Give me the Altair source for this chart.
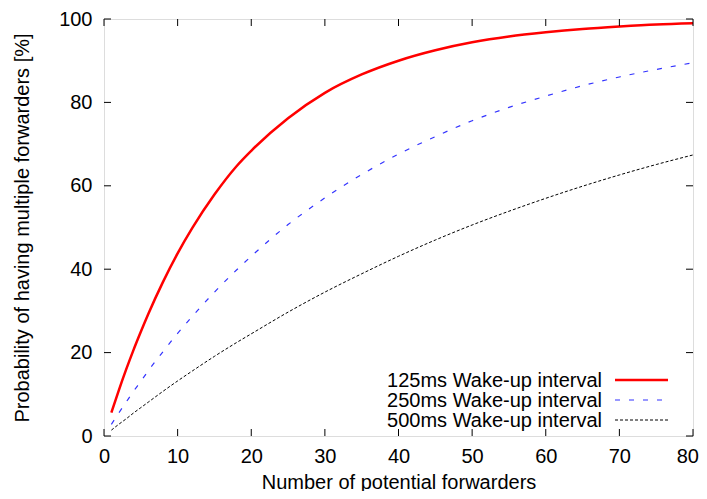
import altair as alt
import pandas as pd

# Data
xs = [1, 2, 3, 4, 5, 6, 8, 10, 12, 15, 18, 20, 25, 30, 35, 40, 45, 50, 55, 60, 65, 70, 75, 80]
red_125 = [5.6, 10.9, 15.9, 20.6, 25.0, 29.2, 36.9, 43.8, 49.9, 57.9, 64.7, 68.4, 76.2, 82.3,
           86.7, 90.0, 92.5, 94.4, 95.8, 96.8, 97.6, 98.2, 98.7, 99.0]
blue_250 = [2.8, 5.5, 8.1, 10.7, 13.1, 15.6, 20.2, 24.6, 28.7, 34.5, 39.8, 43.1, 50.7, 57.1,
            62.7, 67.6, 71.8, 75.6, 78.8, 81.5, 84.0, 86.1, 87.9, 89.5]
black_500 = [1.4, 2.8, 4.1, 5.5, 6.8, 8.1, 10.7, 13.2, 15.6, 19.1, 22.4, 24.5, 29.7, 34.5,
             38.9, 43.1, 47.0, 50.6, 53.9, 57.0, 59.9, 62.6, 65.1, 67.4]
labels = ["125ms Wake-up interval", "250ms Wake-up interval", "500ms Wake-up interval"]
x_ticks = [0, 10, 20, 30, 40, 50, 60, 70, 80]
y_ticks = [0, 20, 40, 60, 80, 100]

W, H = 589, 417
FONT = "Liberation Sans"
FS = 20

xscale = alt.Scale(domain=[0, 80], nice=False, zero=False)
yscale = alt.Scale(domain=[0, 100], nice=False)

styles = [
    dict(color="#ff0000", strokeWidth=2.5),
    dict(color="#3333ff", strokeWidth=1.2, strokeDash=[5, 9]),
    dict(color="#000000", strokeWidth=1.0, strokeDash=[3, 2]),
]
series = [red_125, blue_250, black_500]

x_axis = alt.Axis(values=x_ticks, title="Number of potential forwarders", grid=False,
                  domain=False, ticks=False, tickSize=0, labelPadding=10, titlePadding=6,
                  labelFont=FONT, titleFont=FONT, labelFontSize=FS, titleFontSize=FS,
                  labelColor="black", titleColor="black", titleFontWeight="normal",
                  labelFlush=True, labelFlushOffset=5.5)
y_axis = alt.Axis(values=y_ticks, title="Probability of having multiple forwarders [%]",
                  grid=False, domain=False, ticks=False, tickSize=0, labelPadding=12,
                  titlePadding=26, labelFont=FONT, titleFont=FONT, labelFontSize=FS,
                  titleFontSize=FS, labelColor="black", titleColor="black",
                  titleFontWeight="normal", labelFlush=False)

layers = []
for vals, st in zip(series, styles):
    df = pd.DataFrame({"x": xs, "y": vals})
    layers.append(alt.Chart(df).mark_line(interpolate="monotone", clip=True, **st)
                  .encode(x=alt.X("x:Q", scale=xscale, axis=x_axis),
                          y=alt.Y("y:Q", scale=yscale, axis=y_axis)))

# inward tick marks on all four sides
dfx = pd.DataFrame({"v": x_ticks})
dfy = pd.DataFrame({"v": y_ticks})
TL = 7
tick_style = dict(color="black", strokeWidth=1)
layers.append(alt.Chart(dfx).mark_rule(**tick_style).encode(
    x=alt.X("v:Q", scale=xscale, axis=x_axis), y=alt.value(H), y2=alt.value(H - TL)))
layers.append(alt.Chart(dfx).mark_rule(**tick_style).encode(
    x=alt.X("v:Q", scale=xscale, axis=x_axis), y=alt.value(0), y2=alt.value(TL)))
layers.append(alt.Chart(dfy).mark_rule(**tick_style).encode(
    y=alt.Y("v:Q", scale=yscale, axis=y_axis), x=alt.value(0), x2=alt.value(TL)))
layers.append(alt.Chart(dfy).mark_rule(**tick_style).encode(
    y=alt.Y("v:Q", scale=yscale, axis=y_axis), x=alt.value(W), x2=alt.value(W - TL)))

# key (gnuplot style: text on the left, line sample on the right)
row_y = [362, 382, 402]
for lab, st, ry in zip(labels, styles, row_y):
    dft = pd.DataFrame({"t": [lab]})
    layers.append(alt.Chart(dft).mark_text(align="right", baseline="middle", font=FONT,
                                           fontSize=FS, color="black")
                  .encode(text="t:N", x=alt.value(498), y=alt.value(ry)))
    layers.append(alt.Chart(dft).mark_rule(**st).encode(
        x=alt.value(511), x2=alt.value(564), y=alt.value(ry - 1)))

chart = alt.layer(*layers).properties(
    width=W, height=H,
    autosize=alt.AutoSizeParams(type="none"),
    padding={"left": 96, "top": 11, "right": 6, "bottom": 55},
).configure_view(stroke="black", strokeWidth=1).configure(background="white")

chart.save("out.html", embed_options={"renderer": "svg", "actions": False})
